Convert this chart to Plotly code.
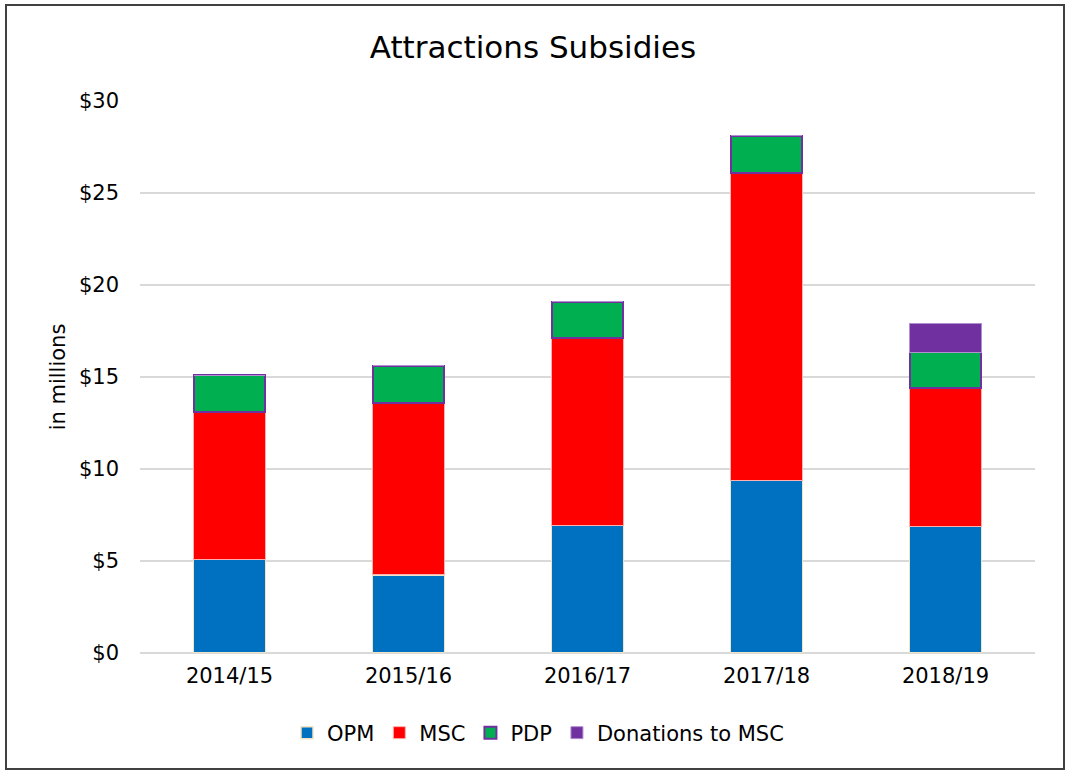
import plotly.graph_objects as go

years = ["2014/15", "2015/16", "2016/17", "2017/18", "2018/19"]
opm = [5.1, 4.25, 6.95, 9.4, 6.9]
msc = [8.0, 9.35, 10.15, 16.7, 7.5]
pdp = [2.0, 2.0, 2.0, 2.0, 1.95]
donations = [0, 0, 0, 0, 1.55]
y_ticks = [0, 5, 10, 15, 20, 25, 30]
y_tick_labels = ["$0", "$5", "$10", "$15", "$20", "$25", "$30"]

W, H = 1066, 772
ML, MR, MT, MB = 140, 31, 101, 119
FONT = "'DejaVu Sans', sans-serif"
FS = 21

fig = go.Figure()
fig.add_bar(x=years, y=opm, name="OPM",
            marker=dict(color="#0070C0", line=dict(color="#F0E4C4", width=1.5)))
fig.add_bar(x=years, y=msc, name="MSC",
            marker=dict(color="#FF0000", line=dict(color="#FFB0B0", width=1)))
fig.add_bar(x=years, y=pdp, name="PDP",
            marker=dict(color="#00B050", line=dict(color="#7030A0", width=2)))
fig.add_bar(x=years, y=donations, name="Donations to MSC",
            marker=dict(color="#7030A0", line=dict(color="#B090D0", width=1)))

pw = W - ML - MR
ph = H - MT - MB
fig.add_shape(type="rect", xref="paper", yref="paper",
              x0=(6 - ML) / pw, x1=(1064 - ML) / pw,
              y0=(H - MB - 769) / ph, y1=(H - MB - 5) / ph,
              line=dict(color="#404040", width=2), fillcolor="rgba(0,0,0,0)", layer="below")

fig.update_layout(
    width=W, height=H,
    margin=dict(l=ML, r=MR, t=MT, b=MB, autoexpand=False),
    barmode="stack", bargap=0.6,
    paper_bgcolor="white", plot_bgcolor="white",
    font=dict(family=FONT, size=FS, color="#000000"),
    title=dict(text="Attractions Subsidies", x=0.5, xref="container", xanchor="center",
               y=1 - 47 / H, yanchor="middle", font=dict(size=31, family=FONT)),
    legend=dict(orientation="h", x=(538 - ML) / pw, xanchor="center", xref="paper",
                y=-(733 - (H - MB)) / ph, yanchor="middle",
                font=dict(size=FS), traceorder="normal", itemwidth=30),
    showlegend=True,
)
fig.update_xaxes(showgrid=False, showline=False, ticks="", tickfont=dict(size=FS),
                 ticklabelstandoff=8)
fig.update_yaxes(range=[0, 30], tickvals=y_ticks, ticktext=y_tick_labels,
                 showgrid=True, gridcolor="#D9D9D9", gridwidth=1.5,
                 zeroline=True, zerolinecolor="#D9D9D9", zerolinewidth=1.5,
                 showline=False, ticks="", tickfont=dict(size=FS),
                 ticklabelstandoff=20,
                 title=dict(text="in millions", font=dict(size=FS), standoff=7))

fig.write_html("out.html")
